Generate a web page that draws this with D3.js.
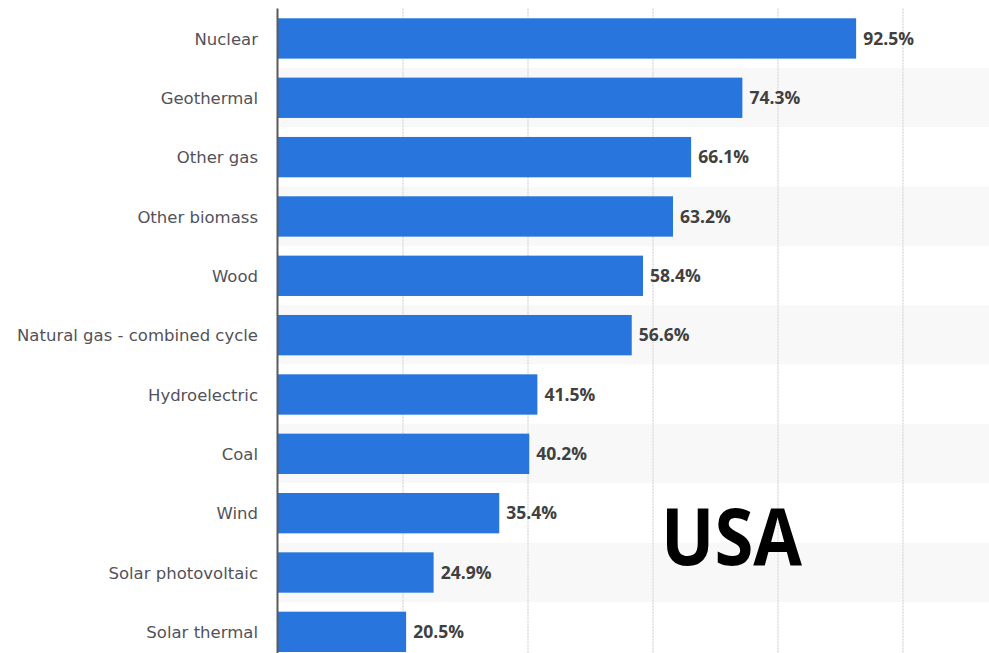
<!DOCTYPE html>
<html><head><meta charset="utf-8">
<script src="https://cdn.jsdelivr.net/npm/d3@7"></script>
<style>html,body{margin:0;padding:0;background:#fff;overflow:hidden}</style>
</head><body><svg id="c" width="989" height="653"></svg>
<script>
const categories = ["Nuclear","Geothermal","Other gas","Other biomass","Wood","Natural gas - combined cycle","Hydroelectric","Coal","Wind","Solar photovoltaic","Solar thermal"];
const values = [92.5,74.3,66.1,63.2,58.4,56.6,41.5,40.2,35.4,24.9,20.5];
const gridTicks = [20,40,60,80,100];
const overlayText = "USA";

(function(){
const svg = d3.select("#c");
const y0 = 8.6, step = 59.34;
const x = d3.scaleLinear().domain([0,100]).range([278,903]);
const y = d3.scaleBand().domain(categories).range([y0, y0 + step*categories.length]).padding(0);

// alternating row bands
svg.append("g").selectAll("rect").data(categories).join("rect")
  .attr("x", x(0)).attr("width", 989 - x(0))
  .attr("y", d => y(d)).attr("height", y.bandwidth())
  .attr("fill", (d,i) => i % 2 ? "#f8f8f8" : "#ffffff");

// gridlines
svg.append("g").selectAll("line").data(gridTicks).join("line")
  .attr("x1", d => x(d)).attr("x2", d => x(d))
  .attr("y1", y0).attr("y2", 653)
  .attr("stroke", "#dcdcdc").attr("stroke-width", 1.5).attr("stroke-dasharray", "2,1");

// bars
const bh = y.bandwidth()*0.68, boff = y.bandwidth()*0.163;
svg.append("g").selectAll("rect").data(categories).join("rect")
  .attr("x", x(0)).attr("y", d => y(d) + boff)
  .attr("width", (d,i) => x(values[i]) - x(0)).attr("height", bh)
  .attr("fill", "#2876dd");

// axis line
svg.append("line").attr("x1", 277.5).attr("x2", 277.5).attr("y1", y0).attr("y2", 653)
  .attr("stroke", "#5a5a5a").attr("stroke-width", 2);

// category labels
svg.append("g").selectAll("text").data(categories).join("text")
  .attr("x", 258).attr("y", d => y(d) + y.bandwidth()/2 + 6.5)
  .attr("text-anchor", "end")
  .attr("font-family", "DejaVu Sans, sans-serif").attr("font-size", 16.5)
  .attr("fill", "#52525a").text(d => d);

// value labels
svg.append("g").selectAll("text").data(categories).join("text")
  .attr("x", (d,i) => x(values[i]) + 7).attr("y", d => y(d) + y.bandwidth()/2 + 6.5)
  .attr("font-family", "Open Sans, sans-serif").attr("font-size", 17.5).attr("font-weight", "bold")
  .attr("fill", "#404040").text((d,i) => values[i].toFixed(1) + "%");

svg.append("text").attr("x", 661).attr("y", 565)
  .attr("font-family", "Open Sans, sans-serif").attr("font-weight", "bold").attr("font-size", 78)
  .attr("textLength", 141).attr("lengthAdjust", "spacingAndGlyphs")
  .attr("fill", "#000").text(overlayText);
})();
</script></body></html>
